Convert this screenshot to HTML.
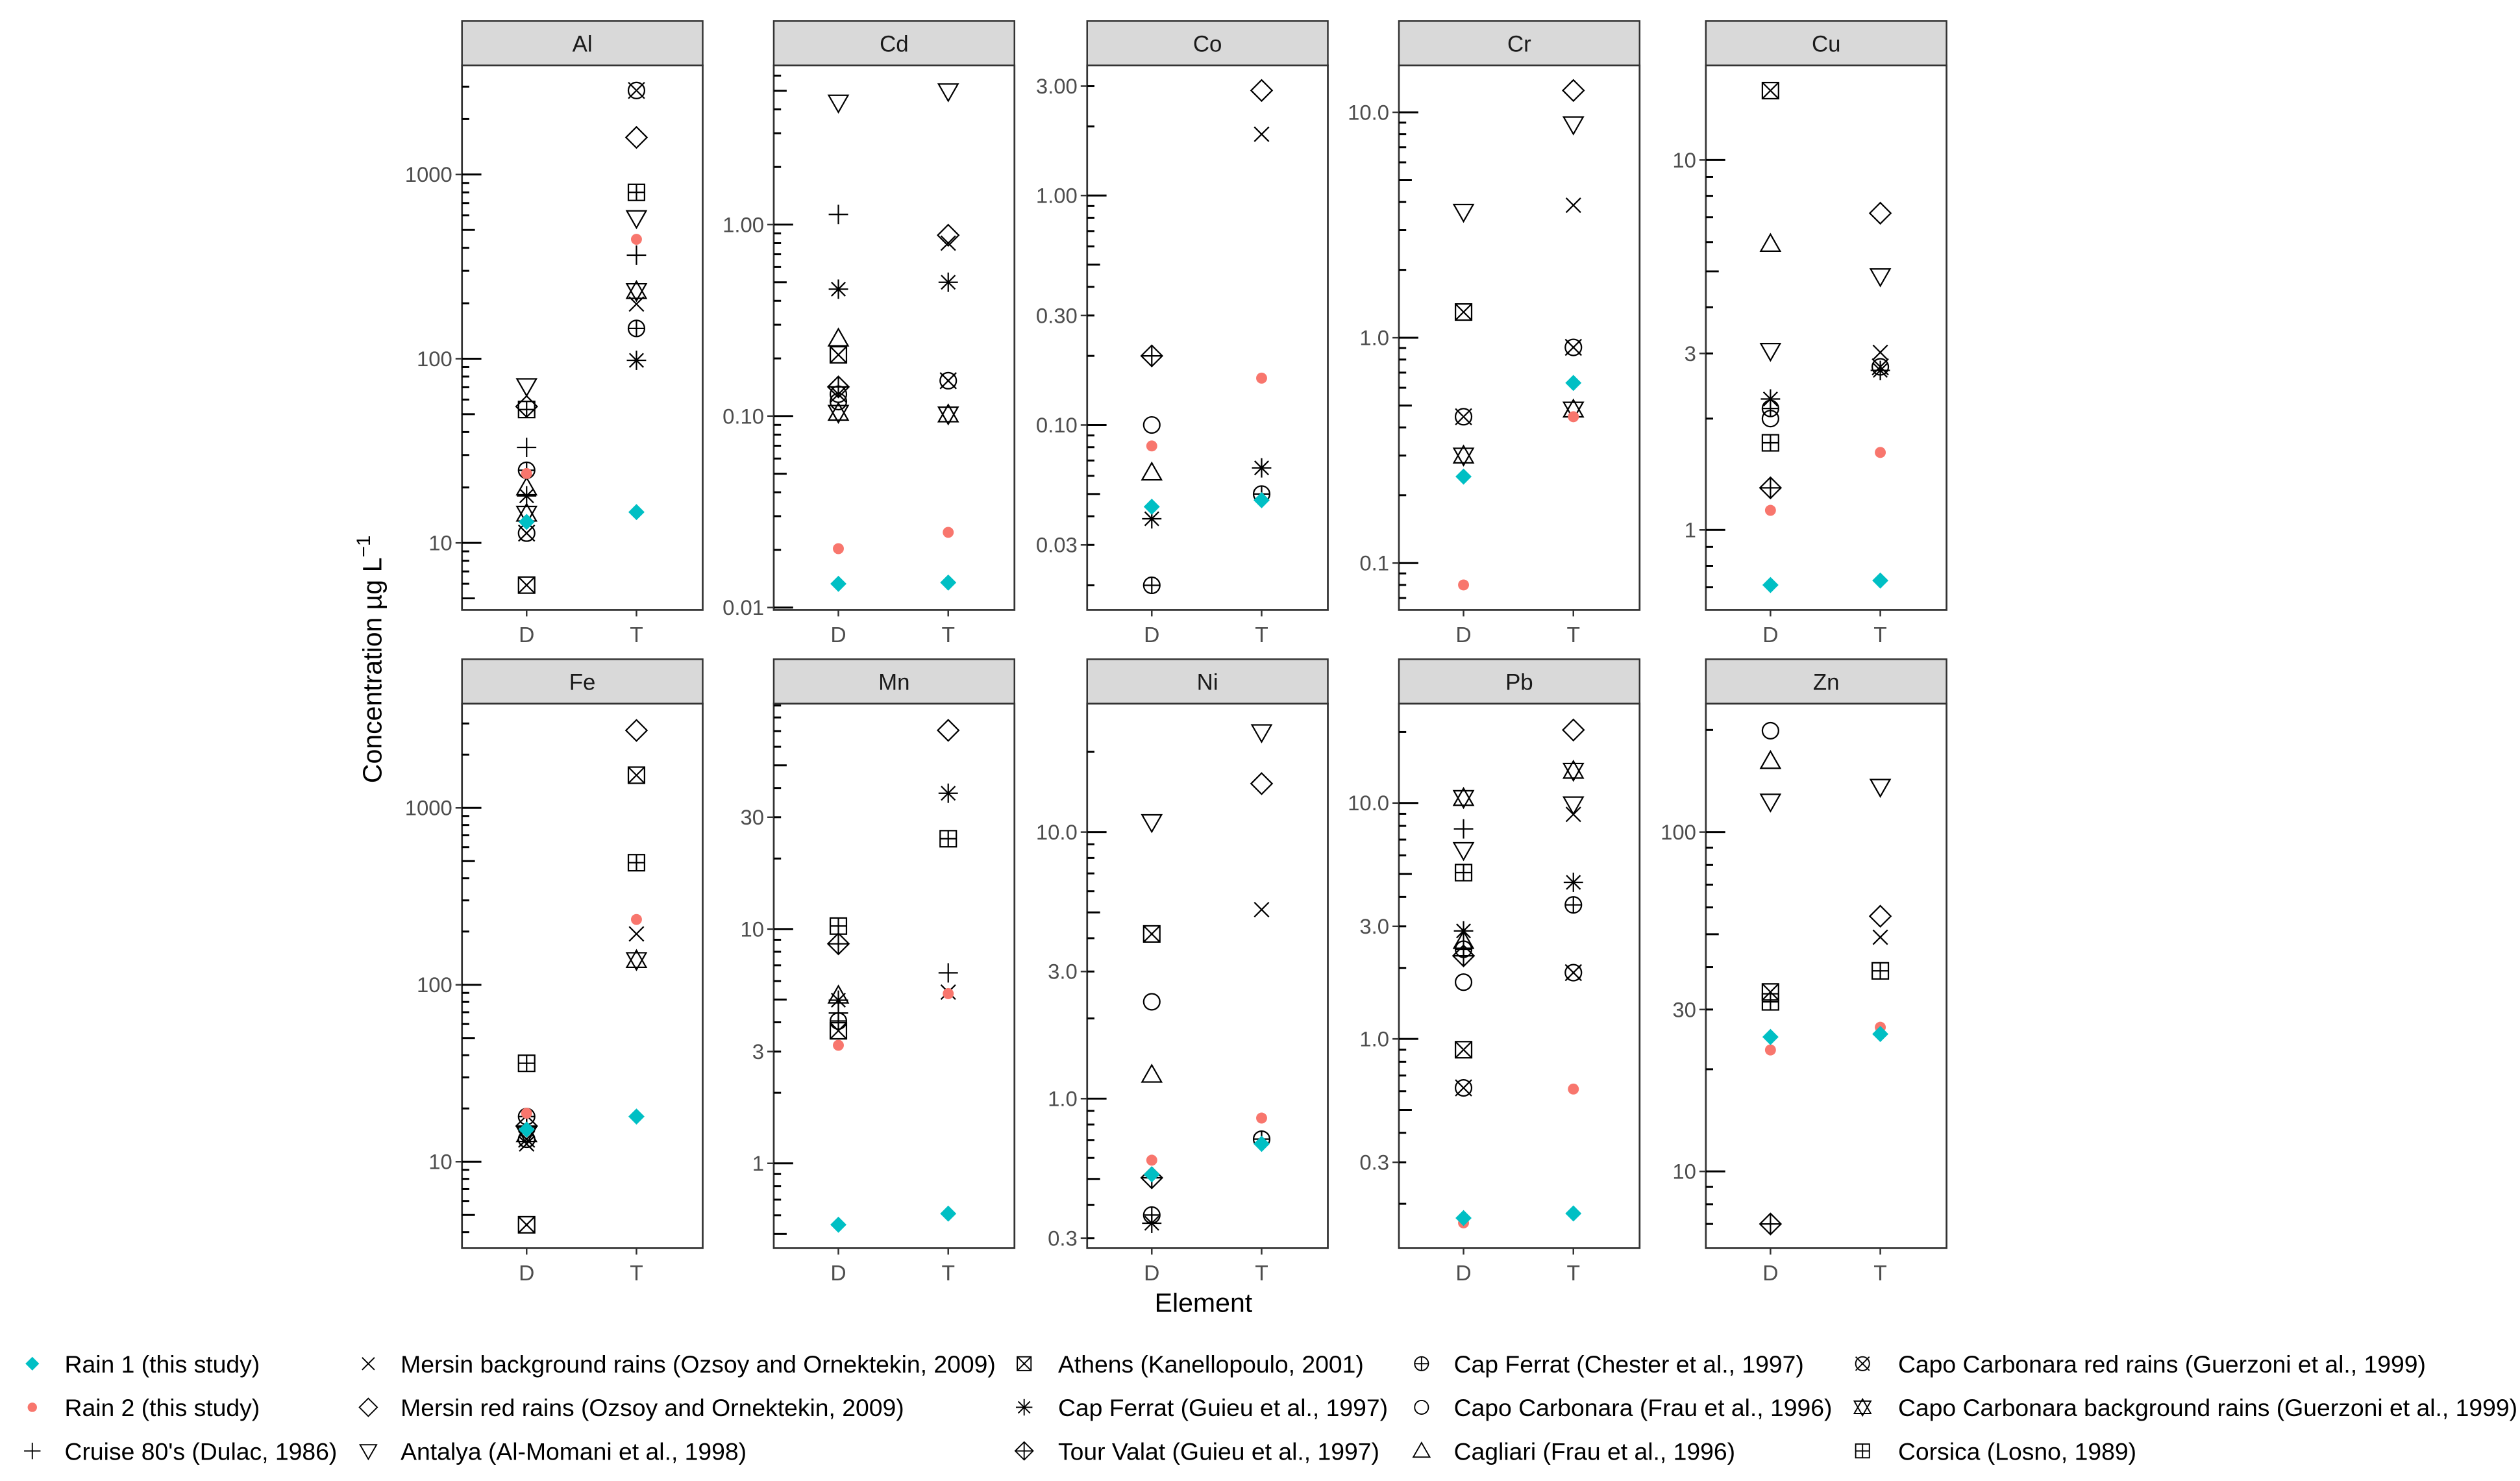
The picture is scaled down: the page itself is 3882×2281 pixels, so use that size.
<!DOCTYPE html>
<html><head><meta charset="utf-8"><style>
html,body{margin:0;padding:0;background:#fff;}
svg{display:block;font-family:"Liberation Sans",Arial,sans-serif;}
</style></head><body>
<svg id="chart" width="3882" height="2281" viewBox="0 0 1560 916.6" xmlns="http://www.w3.org/2000/svg">
<rect width="1560" height="916.6" fill="#fff"/>
<text transform="translate(236,408) rotate(-90)" text-anchor="middle" font-size="16.5" fill="#000">Concentration µg L<tspan dy="-7" font-size="12">−1</tspan></text>
<text x="745" y="812" text-anchor="middle" font-size="16.5" fill="#000">Element</text>
<g id="panels"></g>
<g id="legend"></g>
</svg>
<script>
// series order: 0 Rain1,1 Rain2,2 Cruise,3 Mersin bg,4 Mersin red,5 Antalya,6 Athens,7 CapFerrat Guieu,8 Tour Valat,9 CapFerrat Chester,10 CC Frau,11 Cagliari,12 CC red,13 CC bg,14 Corsica
const seriesNames = ["Rain 1 (this study)","Rain 2 (this study)","Cruise 80's (Dulac, 1986)","Mersin background rains (Ozsoy and Ornektekin, 2009)","Mersin red rains (Ozsoy and Ornektekin, 2009)","Antalya (Al-Momani et al., 1998)","Athens (Kanellopoulo, 2001)","Cap Ferrat (Guieu et al., 1997)","Tour Valat (Guieu et al., 1997)","Cap Ferrat (Chester et al., 1997)","Capo Carbonara (Frau et al., 1996)","Cagliari (Frau et al., 1996)","Capo Carbonara red rains (Guerzoni et al., 1999)","Capo Carbonara background rains (Guerzoni et al., 1999)","Corsica (Losno, 1989)"];
const seriesShapes = ["fdiamond","fcircle","plus","cross","diamond","tridown","sqx","star","diamondplus","circleplus","circle","triup","circlex","hexagram","sqplus"];
const elements = ["Al","Cd","Co","Cr","Cu","Fe","Mn","Ni","Pb","Zn"];
const groups = ["D","T"];
const alD=[13,23.8,33,null,55,71,5.9,18,null,24.8,null,20,11.3,14.4,53];
const alT=[14.7,445,365,198,1590,580,null,98,null,146,null,null,2860,233,800];
const cdD=[0.0133,0.0203,1.13,null,null,4.34,0.209,0.46,0.142,null,0.119,0.254,0.13,0.104,null];
const cdT=[0.0135,0.0247,null,0.80,0.88,4.97,null,0.50,null,null,null,null,0.153,0.102,null];
const coD=[0.044,0.081,null,null,null,null,null,0.039,0.20,0.020,0.10,0.062,null,null,null];
const coT=[0.047,0.16,null,1.85,2.87,null,null,0.065,null,0.05,null,null,null,null,null];
const crD=[0.242,0.080,null,null,null,3.62,1.30,null,null,null,null,null,0.446,0.30,null];
const crT=[0.63,0.446,null,3.87,12.5,8.84,null,null,null,null,null,null,0.906,0.48,null];
const cuD=[0.71,1.13,null,null,null,3.05,15.4,2.26,1.30,2.13,2.0,5.93,null,null,1.72];
const cuT=[0.73,1.62,null,3.02,7.18,4.85,null,2.7,null,null,null,null,2.76,null,null];
const feD=[15.2,18.8,null,12.6,null,null,4.4,null,15.9,18,null,null,13.4,14.3,36];
const feT=[18,234,null,194,2740,null,1530,null,null,null,null,null,null,138,490];
const mnD=[0.547,3.19,4.38,null,null,null,3.68,4.97,8.65,4.05,null,5.2,null,null,10.3];
const mnT=[0.61,5.3,6.5,5.38,70.5,null,null,38,null,null,null,null,null,null,24.3];
const niD=[0.52,0.588,null,null,null,10.9,4.15,0.341,0.505,0.366,2.31,1.23,null,null,null];
const niT=[0.677,0.846,null,5.12,15.2,23.7,null,null,null,0.705,null,null,null,null,null];
const pbD=[0.174,0.166,7.77,null,null,6.32,0.90,2.87,2.25,2.4,1.74,2.6,0.62,10.5,5.07];
const pbT=[0.182,0.613,null,8.95,20.4,9.87,null,4.61,null,3.7,null,null,1.91,13.7,null];
const znD=[24.9,22.8,null,null,null,123,33.8,null,7.0,null,199,162,null,null,31.6];
const znT=[25.4,26.6,null,49,56.5,136,null,null,null,null,null,null,null,null,39];
const valuesD=[alD,cdD,coD,crD,cuD,feD,mnD,niD,pbD,znD];
const valuesT=[alT,cdT,coT,crT,cuT,feT,mnT,niT,pbT,znT];
const tickLabels=[["10","100","1000"],["0.01","0.10","1.00"],["0.03","0.10","0.30","1.00","3.00"],["0.1","1.0","10.0"],["1","3","10"],["10","100","1000"],["1","3","10","30"],["0.3","1.0","3.0","10.0"],["0.3","1.0","3.0","10.0"],["10","30","100"]];

// layout (scale params, not data)
const colX=[286,479,673,866,1056], PW=149;
const rowTop=[13,408], STRIP=27.5, PH=337;
const scaleRef=[[1000,108,114],[1,139,118.5],[1,121,142],[1,209,139.5],[1,328,229],[1000,500,109.5],[1,720,145],[1,680,165],[1,643,146],[100,515,210]];
const NS="http://www.w3.org/2000/svg";
function mk(tag,attrs,parent){const e=document.createElementNS(NS,tag);for(const k in attrs)e.setAttribute(k,attrs[k]);if(parent)parent.appendChild(e);return e;}
const CYAN="#00BFC4",SALMON="#F8766D";
function drawShape(g,shape,x,y){
  const s={stroke:"#000","stroke-width":0.9,fill:"none"};
  const line=(x1,y1,x2,y2)=>mk("line",Object.assign({x1,y1,x2,y2},s),g);
  const poly=(pts)=>mk("polygon",Object.assign({points:pts.map(p=>p.join(",")).join(" ")},s),g);
  if(shape==="fdiamond"){mk("polygon",{points:`${x},${y-5} ${x+5},${y} ${x},${y+5} ${x-5},${y}`,fill:CYAN},g);return;}
  if(shape==="fcircle"){mk("circle",{cx:x,cy:y,r:3.4,fill:SALMON},g);return;}
  const plus=()=>{line(x-6,y,x+6,y);line(x,y-6,x,y+6);};
  const cross=(d)=>{line(x-d,y-d,x+d,y+d);line(x-d,y+d,x+d,y-d);};
  const diam=()=>poly([[x,y-6.5],[x+6.5,y],[x,y+6.5],[x-6.5,y]]);
  const sq=()=>mk("rect",Object.assign({x:x-5,y:y-5,width:10,height:10},s),g);
  const circ=()=>mk("circle",Object.assign({cx:x,cy:y,r:5},s),g);
  const tdown=()=>poly([[x-6,y-4.5],[x+6,y-4.5],[x,y+6]]);
  const tup=()=>poly([[x-6,y+4.5],[x+6,y+4.5],[x,y-6]]);
  switch(shape){
    case "plus":plus();break;
    case "cross":cross(4.5);break;
    case "diamond":diam();break;
    case "tridown":tdown();break;
    case "triup":tup();break;
    case "sqx":sq();cross(5);break;
    case "star":plus();cross(4.3);break;
    case "diamondplus":diam();line(x-6.5,y,x+6.5,y);line(x,y-6.5,x,y+6.5);break;
    case "circleplus":circ();line(x-5,y,x+5,y);line(x,y-5,x,y+5);break;
    case "circle":circ();break;
    case "circlex":circ();cross(5);break;
    case "hexagram":tup();tdown();break;
    case "sqplus":sq();line(x-5,y,x+5,y);line(x,y-5,x,y+5);break;
  }
}
const panels=document.getElementById("panels");
elements.forEach((el,i)=>{
  const col=i%5,row=Math.floor(i/5);
  const L=colX[col],T=rowTop[row],top=T+STRIP,bot=top+PH;
  const [v0,y0,ppd]=scaleRef[i];
  const yS=v=>y0-(Math.log10(v)-Math.log10(v0))*ppd;
  const xS=gr=>L+40+groups.indexOf(gr)*68;
  const g=mk("g",{},panels);
  
  
  const strip=mk("rect",{x:L,y:T,width:PW,height:STRIP,fill:"#d9d9d9",stroke:"#333","stroke-width":1},g);
  
  
  const st=mk("text",{x:L+PW/2,y:T+19,"text-anchor":"middle","font-size":14,fill:"#1a1a1a"},g);
  st.textContent=el;
  
  
  const frame=mk("rect",{x:L,y:top,width:PW,height:PH,fill:"#fff",stroke:"#333","stroke-width":1.1},g);
  
  
  // log ticks
  for(let e=-3;e<=5;e++){for(let m=1;m<=9;m++){const v=m*Math.pow(10,e);const y=yS(v);if(y<top+1||y>bot-1)continue;const len=m===1?12:(m===5?8:4.5);mk("line",{x1:L,y1:y,x2:L+len,y2:y,stroke:"#000","stroke-width":1.2},g);}}
  tickLabels[i].forEach(lab=>{const y=yS(parseFloat(lab));
    mk("line",{x1:L-4,y1:y,x2:L,y2:y,stroke:"#333","stroke-width":1},g);
    const t=mk("text",{x:L-6,y:y+4.6,"text-anchor":"end","font-size":13.2,fill:"#4d4d4d"},g);t.textContent=lab;
    
    });
  groups.forEach(gr=>{const x=xS(gr);mk("line",{x1:x,y1:bot,x2:x,y2:bot+4,stroke:"#333","stroke-width":1},g);
    const t=mk("text",{x:x,y:bot+20,"text-anchor":"middle","font-size":13.5,fill:"#4d4d4d"},g);t.textContent=gr;
    
    });
  [["D",valuesD[i]],["T",valuesT[i]]].forEach(([gr,arr])=>{
    for(let s=arr.length-1;s>=0;s--){const v=arr[s];if(v==null)continue;
      const pg=mk("g",{},g);
      
      
      drawShape(pg,seriesShapes[s],xS(gr),yS(v));}
  });
});
// legend
const leg=document.getElementById("legend");
const legColSym=[20,228,634,880,1153],legColTxt=[40,248,655,900,1175],legRowY=[844,871,898];
seriesNames.forEach((n,s)=>{
  const c=Math.floor(s/3),r=s%3;
  const g=mk("g",{},leg);
  
  
  const sg=mk("g",{transform:`translate(${legColSym[c]},${legRowY[r]}) scale(0.85) translate(${-legColSym[c]},${-legRowY[r]})`},g);
  drawShape(sg,seriesShapes[s],legColSym[c],legRowY[r]);
  const t=mk("text",{x:legColTxt[c],y:legRowY[r]+5.5,"font-size":15,fill:"#000"},g);t.textContent=n;
});
</script>
</body></html>
